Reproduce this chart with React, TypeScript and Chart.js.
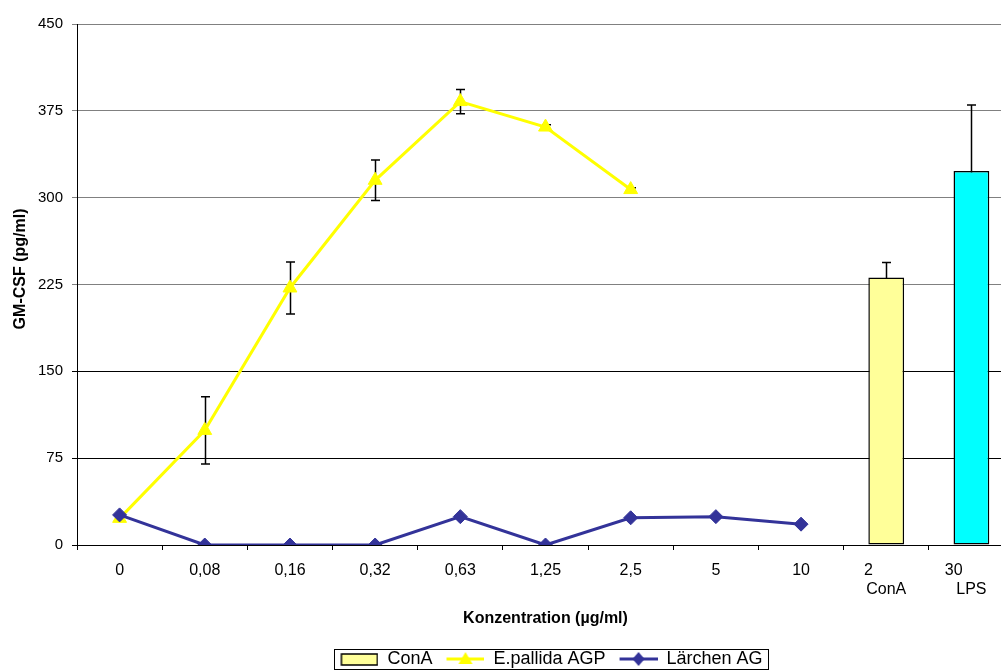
import React, { useEffect, useRef } from 'react';
import { Chart, registerables } from 'chart.js';
Chart.register(...registerables);

const categories: (string | string[])[] = ['0', '0,08', '0,16', '0,32', '0,63', '1,25', '2,5', '5', '10', ['2        ', 'ConA'], ['30        ', 'LPS']];
const yTicks = [0, 75, 150, 225, 300, 375, 450];
const epallida = [23, 99, 222, 315, 383, 361, 307, null, null, null, null];
const epallidaErr = [0, 29, 22.5, 17.5, 10.5, 2, 1.5, null, null, null, null];
const laerchen = [26, 0, 0, 0, 24.5, 0, 23.5, 24.5, 18, null, null];
const conA = [null, null, null, null, null, null, null, null, null, 231, null];
const conAErr = [null, null, null, null, null, null, null, null, null, 13, null];
const lps = [null, null, null, null, null, null, null, null, null, null, 323];
const lpsErr = [null, null, null, null, null, null, null, null, null, null, 57];

const FONT = "'Liberation Sans', Arial, sans-serif";
const YELLOW = '#FFFF00';
const CONA_FILL = '#FFFF99';
const LPS_FILL = '#00FFFF';
const BLUE = '#333399';

function makeImg(draw: (c: CanvasRenderingContext2D) => void) {
  const cv = document.createElement('canvas');
  cv.width = 50;
  cv.height = 16;
  const c = cv.getContext('2d')!;
  draw(c);
  return cv;
}

export default function App() {
  const ref = useRef<HTMLCanvasElement>(null);
  useEffect(() => {
    document.body.style.margin = '0';
    const imgs: HTMLCanvasElement[] = [
      makeImg((c) => {
        c.fillStyle = CONA_FILL;
        c.fillRect(13, 3, 36, 11);
        c.strokeStyle = '#000';
        c.lineWidth = 1.5;
        c.strokeRect(13, 3, 36, 11);
      }),
      makeImg((c) => {
        c.strokeStyle = YELLOW;
        c.lineWidth = 3;
        c.beginPath();
        c.moveTo(12, 8);
        c.lineTo(50, 8);
        c.stroke();
        c.fillStyle = YELLOW;
        c.beginPath();
        c.moveTo(31, 1);
        c.lineTo(38, 13);
        c.lineTo(24, 13);
        c.closePath();
        c.fill();
      }),
      makeImg((c) => {
        c.strokeStyle = BLUE;
        c.lineWidth = 3;
        c.beginPath();
        c.moveTo(12, 8);
        c.lineTo(50, 8);
        c.stroke();
        c.fillStyle = BLUE;
        c.beginPath();
        c.moveTo(31, 1);
        c.lineTo(37, 8);
        c.lineTo(31, 15);
        c.lineTo(25, 8);
        c.closePath();
        c.fill();
      }),
    ];

    const errPlugin = {
      id: 'errbars',
      beforeDatasetsDraw(chart: any) {
        const ctx = chart.ctx;
        const y = chart.scales.y;
        const sets: [number, (number | null)[]][] = [[1, epallidaErr], [0, conAErr], [3, lpsErr]];
        ctx.save();
        ctx.strokeStyle = '#000';
        ctx.lineWidth = 1.5;
        for (const [di, errs] of sets) {
          const meta = chart.getDatasetMeta(di);
          const vals = chart.data.datasets[di].data;
          errs.forEach((e, i) => {
            if (e == null || !e || vals[i] == null) return;
            const el = meta.data[i];
            if (!el) return;
            const x = Math.round(el.x) + 0.5;
            const yt = y.getPixelForValue(vals[i] + e);
            const yb = y.getPixelForValue(vals[i] - e);
            ctx.beginPath();
            ctx.moveTo(x, yt);
            ctx.lineTo(x, yb);
            ctx.moveTo(x - 4.5, yt);
            ctx.lineTo(x + 4.5, yt);
            ctx.moveTo(x - 4.5, yb);
            ctx.lineTo(x + 4.5, yb);
            ctx.stroke();
          });
        }
        ctx.restore();
      },
    };

    const legendBox = {
      id: 'legendBox',
      afterDraw(chart: any) {
        const hb = chart.legend && chart.legend.legendHitBoxes;
        if (!hb || !hb.length) return;
        const ctx = chart.ctx;
        const left = hb[0].left + 12 - 6;
        const last = hb[hb.length - 1];
        const right = last.left + last.width + 6;
        const top = hb[0].top - 1;
        const h = hb[0].height + 2;
        ctx.save();
        ctx.strokeStyle = '#000';
        ctx.lineWidth = 1;
        ctx.strokeRect(Math.round(left) + 0.5, Math.round(top) + 0.5, Math.round(right - left), Math.round(h));
        ctx.restore();
      },
    };

    const chart = new Chart(ref.current!, {
      type: 'bar',
      data: {
        labels: categories as any,
        datasets: [
          {
            type: 'bar',
            label: 'ConA',
            data: conA as any,
            backgroundColor: CONA_FILL,
            borderColor: '#000',
            borderWidth: 1.5,
            borderSkipped: false,
            grouped: false,
            barPercentage: 0.42,
            categoryPercentage: 1,
            order: 3,
          } as any,
          {
            type: 'line',
            label: 'E.pallida AGP',
            data: epallida as any,
            borderColor: YELLOW,
            backgroundColor: YELLOW,
            borderWidth: 3,
            pointStyle: 'triangle',
            pointRadius: 8,
            pointHoverRadius: 8,
            pointBackgroundColor: YELLOW,
            pointBorderColor: YELLOW,
            pointBorderWidth: 1,
            tension: 0,
            order: 2,
          },
          {
            type: 'line',
            label: 'Lärchen AG',
            data: laerchen as any,
            borderColor: BLUE,
            backgroundColor: BLUE,
            borderWidth: 3,
            pointStyle: 'rectRot',
            pointRadius: 7,
            pointHoverRadius: 7,
            pointBackgroundColor: BLUE,
            pointBorderColor: BLUE,
            pointBorderWidth: 1,
            tension: 0,
            order: 1,
          },
          {
            type: 'bar',
            label: 'LPS',
            data: lps as any,
            backgroundColor: LPS_FILL,
            borderColor: '#000',
            borderWidth: 1.5,
            borderSkipped: false,
            grouped: false,
            barPercentage: 0.42,
            categoryPercentage: 1,
            order: 3,
          } as any,
        ],
      },
      options: {
        responsive: false,
        animation: false,
        devicePixelRatio: 1,
        layout: { padding: { top: 24, left: 0, right: 0, bottom: 0 } },
        plugins: {
          tooltip: { enabled: false },
          legend: {
            position: 'bottom',
            fullSize: false,
            labels: {
              usePointStyle: true,
              pointStyleWidth: 50,
              boxHeight: 16,
              padding: 2,
              color: '#000',
              font: { family: FONT, size: 18 },
              generateLabels: (ch: any) => {
                const items = (Chart.defaults.plugins.legend.labels as any).generateLabels(ch);
                return items
                  .filter((it: any) => it.datasetIndex !== 3)
                  .sort((a: any, b: any) => a.datasetIndex - b.datasetIndex)
                  .map((it: any) => ({ ...it, pointStyle: imgs[it.datasetIndex], fontColor: '#000' }));
              },
            },
          },
        },
        scales: {
          x: {
            type: 'category',
            offset: true,
            afterFit: (s: any) => {
              s.height = 103;
            },
            border: { display: true, color: '#000', width: 1 },
            grid: { offset: true, drawOnChartArea: false, drawTicks: true, tickLength: 5, color: '#000' },
            ticks: {
              color: '#000',
              autoSkip: false,
              maxRotation: 0,
              padding: 11,
              font: { family: FONT, size: 16 },
            },
            title: {
              display: true,
              text: 'Konzentration (µg/ml)',
              color: '#000',
              font: { family: FONT, size: 16, weight: 'bold' },
              padding: { top: 0, bottom: 20 },
            },
          },
          y: {
            min: 0,
            max: 450,
            afterFit: (s: any) => {
              s.width = 77;
            },
            afterBuildTicks: (s: any) => {
              s.ticks = yTicks.map((v) => ({ value: v }));
            },
            border: { display: true, color: '#000', width: 1 },
            grid: {
              drawTicks: true,
              tickLength: 5,
              lineWidth: 1,
              color: (c: any) => (c.tick && c.tick.value >= 225 ? '#808080' : '#000'),
            },
            ticks: {
              color: '#000',
              padding: 9,
              font: { family: FONT, size: 15 },
            },
            title: {
              display: true,
              text: '       GM-CSF (pg/ml)',
              color: '#000',
              font: { family: FONT, size: 16, weight: 'bold' },
              padding: { top: 11, bottom: 0 },
            },
          },
        },
      },
      plugins: [errPlugin, legendBox],
    } as any);
    return () => chart.destroy();
  }, []);

  return (
    <div style={{ position: 'absolute', left: 0, top: 0, width: 1001, height: 672, overflow: 'hidden', background: '#fff' }}>
      <canvas ref={ref} width={1023} height={678} style={{ display: 'block', width: 1023, height: 678 }} />
    </div>
  );
}
